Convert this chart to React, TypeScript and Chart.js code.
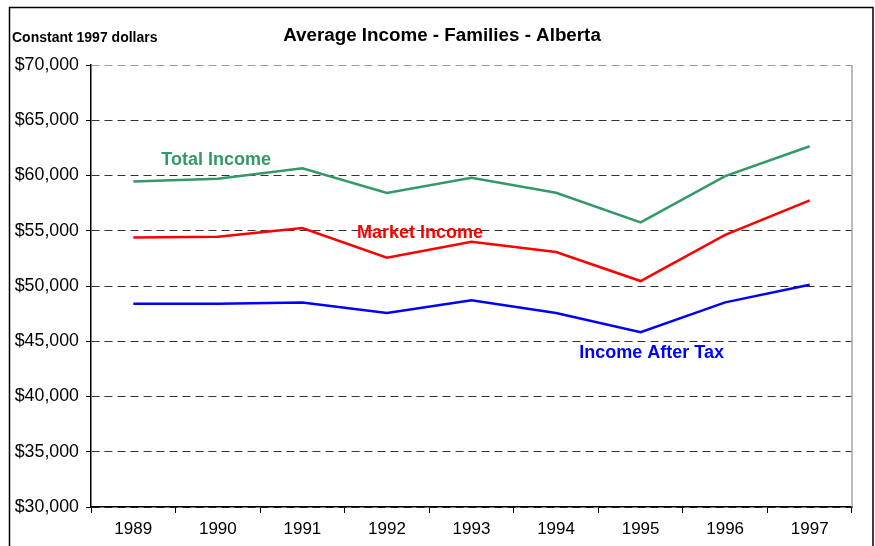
import React, { useEffect, useRef } from "react";
import { Chart, registerables } from "chart.js";

Chart.register(...registerables);

const years = ["1989", "1990", "1991", "1992", "1993", "1994", "1995", "1996", "1997"];
const totalIncome = [59450, 59700, 60650, 58420, 59800, 58440, 55760, 59950, 62650];
const marketIncome = [54380, 54460, 55250, 52560, 54010, 53080, 50450, 54620, 57750];
const incomeAfterTax = [48400, 48400, 48500, 47560, 48700, 47560, 45810, 48520, 50120];

const seriesNames = ["Total Income", "Market Income", "Income After Tax"];
const seriesColors = ["#339966", "#FF0000", "#0000FF"];
// label anchor positions in data space: [category index, value]
const labelIndex = [0.98, 3.39, 6.13];
const labelValue = [61400, 54800, 43940];

const chartTitle = "Average Income - Families - Alberta";
const unitLabel = "Constant 1997 dollars";

const FONT = 'Arial, "Liberation Sans", sans-serif';

const decorPlugin = {
  id: "decor",
  afterDraw(chart: any) {
    const { ctx, chartArea, scales } = chart;
    ctx.save();
    // outer frame
    ctx.strokeStyle = "#000";
    ctx.lineWidth = 1.5;
    ctx.beginPath();
    ctx.moveTo(9.5, 560);
    ctx.lineTo(9.5, 7.5);
    ctx.lineTo(873, 7.5);
    ctx.lineTo(873, 560);
    ctx.stroke();
    // right plot edge
    ctx.strokeStyle = "#a6a6a6";
    ctx.lineWidth = 1.5;
    ctx.beginPath();
    ctx.moveTo(chartArea.right, chartArea.top);
    ctx.lineTo(chartArea.right, chartArea.bottom);
    ctx.stroke();
    // titles
    ctx.fillStyle = "#000";
    ctx.textBaseline = "middle";
    ctx.textAlign = "center";
    ctx.font = `bold 18.8px ${FONT}`;
    ctx.fillText(chartTitle, 442, 36);
    ctx.textAlign = "left";
    ctx.font = `bold 14px ${FONT}`;
    ctx.fillText(unitLabel, 12, 38);
    // series labels
    ctx.textAlign = "center";
    ctx.font = `bold 18px ${FONT}`;
    for (let i = 0; i < seriesNames.length; i++) {
      ctx.fillStyle = seriesColors[i];
      ctx.fillText(
        seriesNames[i],
        scales.x.getPixelForValue(labelIndex[i]),
        scales.y.getPixelForValue(labelValue[i])
      );
    }
    ctx.restore();
  },
};

export default function App() {
  const ref = useRef<HTMLCanvasElement | null>(null);
  useEffect(() => {
    if (!ref.current) return;
    const data = [totalIncome, marketIncome, incomeAfterTax];
    const chart = new Chart(ref.current, {
      type: "line",
      data: {
        labels: years,
        datasets: data.map((d, i) => ({
          label: seriesNames[i],
          data: d,
          borderColor: seriesColors[i],
          backgroundColor: seriesColors[i],
          borderWidth: 2.5,
          pointRadius: 0,
          tension: 0,
          fill: false,
        })),
      },
      options: {
        responsive: false,
        animation: false,
        maintainAspectRatio: false,
        layout: { padding: { top: 65, right: 23, left: 0, bottom: 0 } },
        plugins: {
          legend: { display: false },
          tooltip: { enabled: false },
          title: { display: false },
        },
        scales: {
          x: {
            offset: true,
            grid: {
              offset: true,
              drawOnChartArea: false,
              drawTicks: true,
              tickLength: 6,
              color: "#000",
              lineWidth: 1,
            },
            border: { display: true, color: "#000", width: 1.5 },
            ticks: {
              color: "#000",
              font: { family: FONT, size: 17 },
              padding: 6,
              maxRotation: 0,
            },
            afterFit(scale: any) {
              scale.height = 39;
            },
          },
          y: {
            min: 30000,
            max: 70000,
            grid: {
              color: (c: any) => (c.tick && c.tick.value === 70000 ? "#9a9a9a" : "#333"),
              lineWidth: 1,
              tickLength: 5,
              tickColor: "#000",
            },
            border: { display: true, color: "#000", width: 1.5, dash: [8, 5] },
            ticks: {
              stepSize: 5000,
              color: "#000",
              font: { family: FONT, size: 17.8 },
              padding: 7,
              callback: (v: any) => "$" + Number(v).toLocaleString("en-US"),
            },
            afterFit(scale: any) {
              scale.width = 91;
            },
          },
        },
      },
      plugins: [decorPlugin],
    });
    return () => chart.destroy();
  }, []);
  return (
    <div style={{ position: "absolute", left: 0, top: 0, width: 875, height: 546, background: "#fff" }}>
      <canvas ref={ref} width={875} height={546} style={{ width: 875, height: 546 }} />
    </div>
  );
}
